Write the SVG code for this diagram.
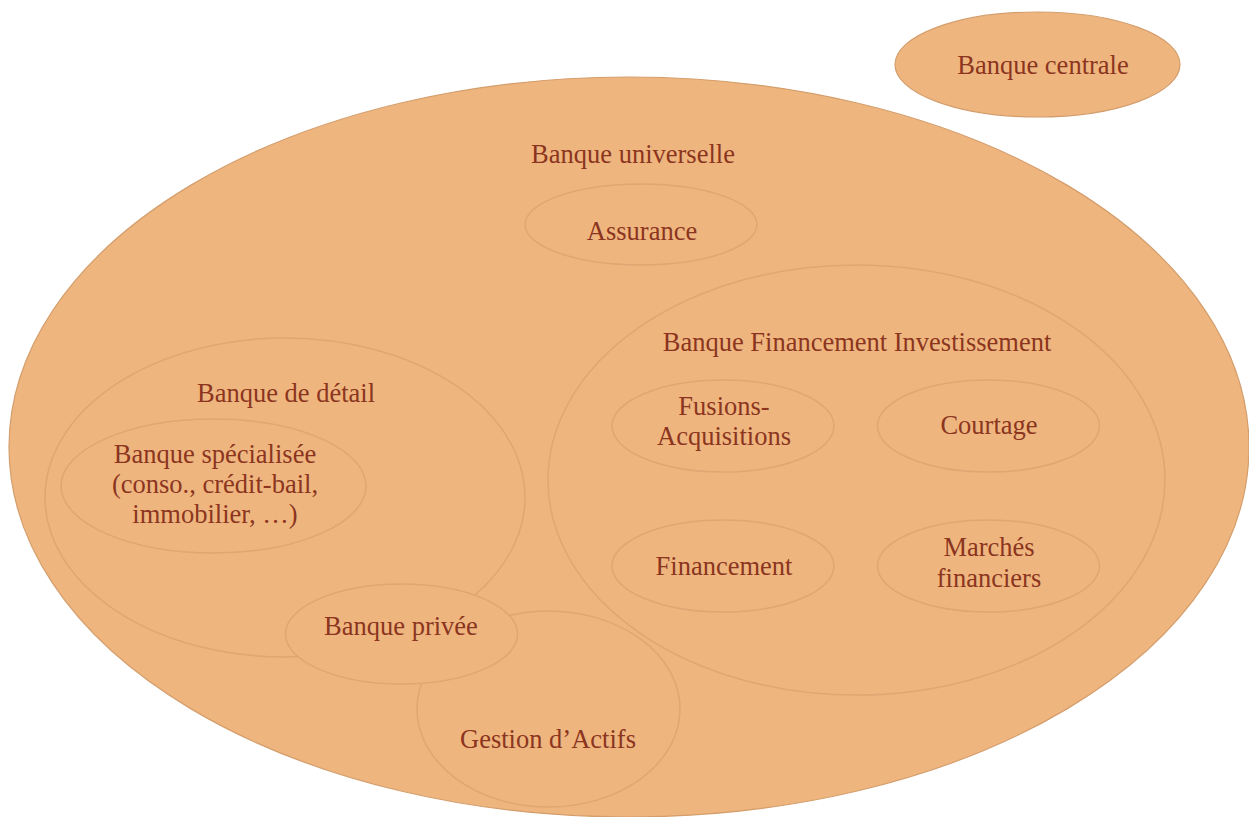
<svg xmlns="http://www.w3.org/2000/svg" width="1249" height="817" viewBox="0 0 1249 817">
<style>
.outer{fill:#EFB57F;stroke:#D49E6C;stroke-width:1.2}
.inner{fill:#EFB57F;stroke:#E0A673;stroke-width:1.5}
.t{font-family:"Liberation Serif","Times New Roman",serif;font-size:26.5px;fill:#8B3520;text-anchor:middle}
</style>
<rect width="1249" height="817" fill="#FFFFFF"/>
<g id="banque-centrale">
<ellipse class="outer" cx="1037.5" cy="64.5" rx="142.5" ry="52.5"/>
<text class="t" x="1043" y="74">Banque centrale</text>
</g>
<g id="banque-universelle">
<ellipse class="outer" cx="629" cy="447" rx="620" ry="370"/>
<text class="t" x="633" y="163">Banque universelle</text>
</g>
<g id="assurance">
<ellipse class="inner" cx="641" cy="224.5" rx="116" ry="40.5"/>
<text class="t" x="642" y="240">Assurance</text>
</g>
<g id="bfi">
<ellipse class="inner" cx="856.5" cy="480" rx="308.5" ry="215"/>
<text class="t" x="857" y="351">Banque Financement Investissement</text>
</g>
<g id="fusions">
<ellipse class="inner" cx="723" cy="426" rx="111" ry="46"/>
<text class="t" x="724" y="415">Fusions-</text>
<text class="t" x="724" y="445">Acquisitions</text>
</g>
<g id="courtage">
<ellipse class="inner" cx="988.5" cy="426" rx="111" ry="46"/>
<text class="t" x="989" y="434">Courtage</text>
</g>
<g id="financement">
<ellipse class="inner" cx="723" cy="566" rx="111" ry="46"/>
<text class="t" x="724" y="575">Financement</text>
</g>
<g id="marches">
<ellipse class="inner" cx="988.5" cy="566" rx="111" ry="46"/>
<text class="t" x="989" y="556">Marchés</text>
<text class="t" x="989" y="587">financiers</text>
</g>
<g id="banque-detail">
<ellipse class="inner" cx="285" cy="497.5" rx="240" ry="159.5"/>
<text class="t" x="286" y="402">Banque de détail</text>
</g>
<g id="banque-specialisee">
<ellipse class="inner" cx="213.5" cy="486" rx="152.5" ry="67"/>
<text class="t" x="215" y="463">Banque spécialisée</text>
<text class="t" x="215" y="493">(conso., crédit-bail,</text>
<text class="t" x="215" y="523">immobilier, …)</text>
</g>
<g id="gestion-actifs">
<ellipse class="inner" cx="548.5" cy="709" rx="131.5" ry="98"/>
<text class="t" x="548" y="748">Gestion d’Actifs</text>
</g>
<g id="banque-privee">
<ellipse class="inner" cx="401.5" cy="634" rx="116" ry="50"/>
<text class="t" x="401" y="635">Banque privée</text>
</g>
<g id="connectors"/>
</svg>
